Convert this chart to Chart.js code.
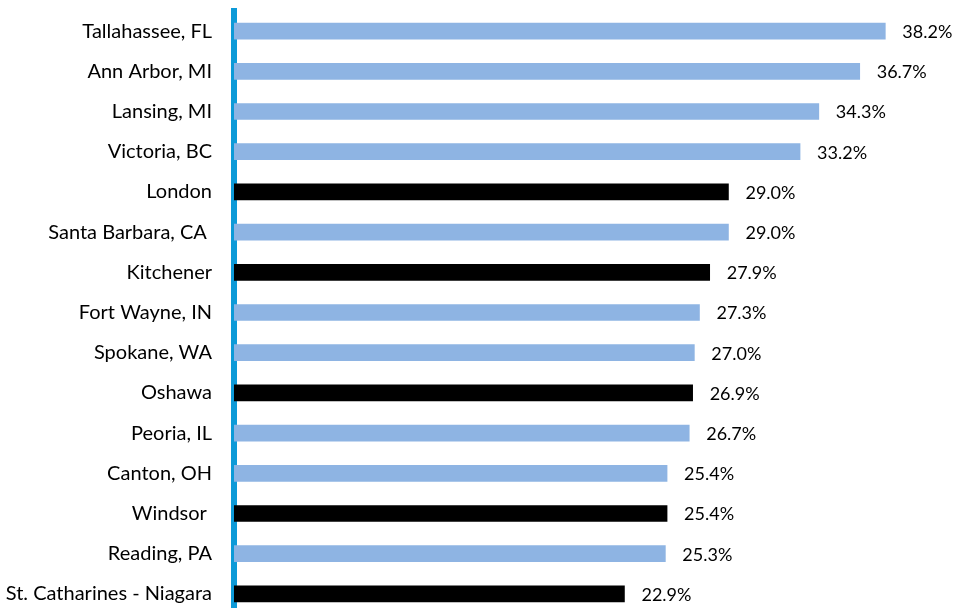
<!DOCTYPE html>
<html>
<head>
<meta charset="utf-8">
<script src="https://cdn.jsdelivr.net/npm/chart.js@4"></script>
<style>
  html, body { margin: 0; padding: 0; background: #fff; overflow: hidden; }
  #wrap { width: 953px; height: 616px; }
</style>
</head>
<body>
<div id="wrap"><canvas id="barChart" width="953" height="616"></canvas></div>
<script>
// cities top to bottom, share in percent
var cities = ["Tallahassee, FL", "Ann Arbor, MI", "Lansing, MI", "Victoria, BC", "London",
  "Santa Barbara, CA ", "Kitchener", "Fort Wayne, IN", "Spokane, WA", "Oshawa",
  "Peoria, IL", "Canton, OH", "Windsor ", "Reading, PA", "St. Catharines - Niagara"];
var shares = [38.2, 36.7, 34.3, 33.2, 29.0, 29.0, 27.9, 27.3, 27.0, 26.9, 26.7, 25.4, 25.4, 25.3, 22.9];
var canadian = ["London", "Kitchener", "Oshawa", "Windsor ", "St. Catharines - Niagara"];
var xMin = 0, xMax = 40;

var FONT = "Lato";

var barColors = cities.map(function(c){
  return canadian.indexOf(c) >= 0 ? '#000000' : '#8eb4e3';
});

// value labels after each bar
var valueLabels = {
  id: 'valueLabels',
  afterDatasetsDraw: function(chart){
    var ctx = chart.ctx;
    var meta = chart.getDatasetMeta(0);
    ctx.save();
    ctx.font = '18px ' + FONT;
    ctx.fillStyle = '#000';
    ctx.textAlign = 'left';
    ctx.textBaseline = 'middle';
    meta.data.forEach(function(bar, i){
      ctx.fillText(shares[i].toFixed(1) + '%', bar.x + 17, bar.y + 1);
    });
    ctx.restore();
  }
};

var ctxB = document.getElementById('barChart').getContext('2d');
var myBarChart = new Chart(ctxB, {
  type: 'bar',
  data: {
    labels: cities,
    datasets: [{
      data: shares,
      backgroundColor: barColors,
      borderWidth: 0,
      barThickness: 16
    }]
  },
  options: {
    indexAxis: 'y',
    responsive: false,
    animation: false,
    layout: { padding: { top: 11, bottom: 2, right: 37, left: 0 } },
    plugins: {
      legend: { display: false },
      tooltip: { enabled: false }
    },
    scales: {
      x: {
        display: false,
        min: xMin,
        max: xMax
      },
      y: {
        afterFit: function(scale){
          scale.width = 234;
          scale.paddingTop = 0;
          scale.paddingBottom = 0;
        },
        grid: { display: false, drawTicks: false },
        border: { display: true, color: '#0d9ad8', width: 6 },
        ticks: {
          padding: 22,
          color: '#000',
          font: { family: FONT, size: 20 }
        }
      }
    }
  },
  plugins: [valueLabels]
});
</script>
</body>
</html>
